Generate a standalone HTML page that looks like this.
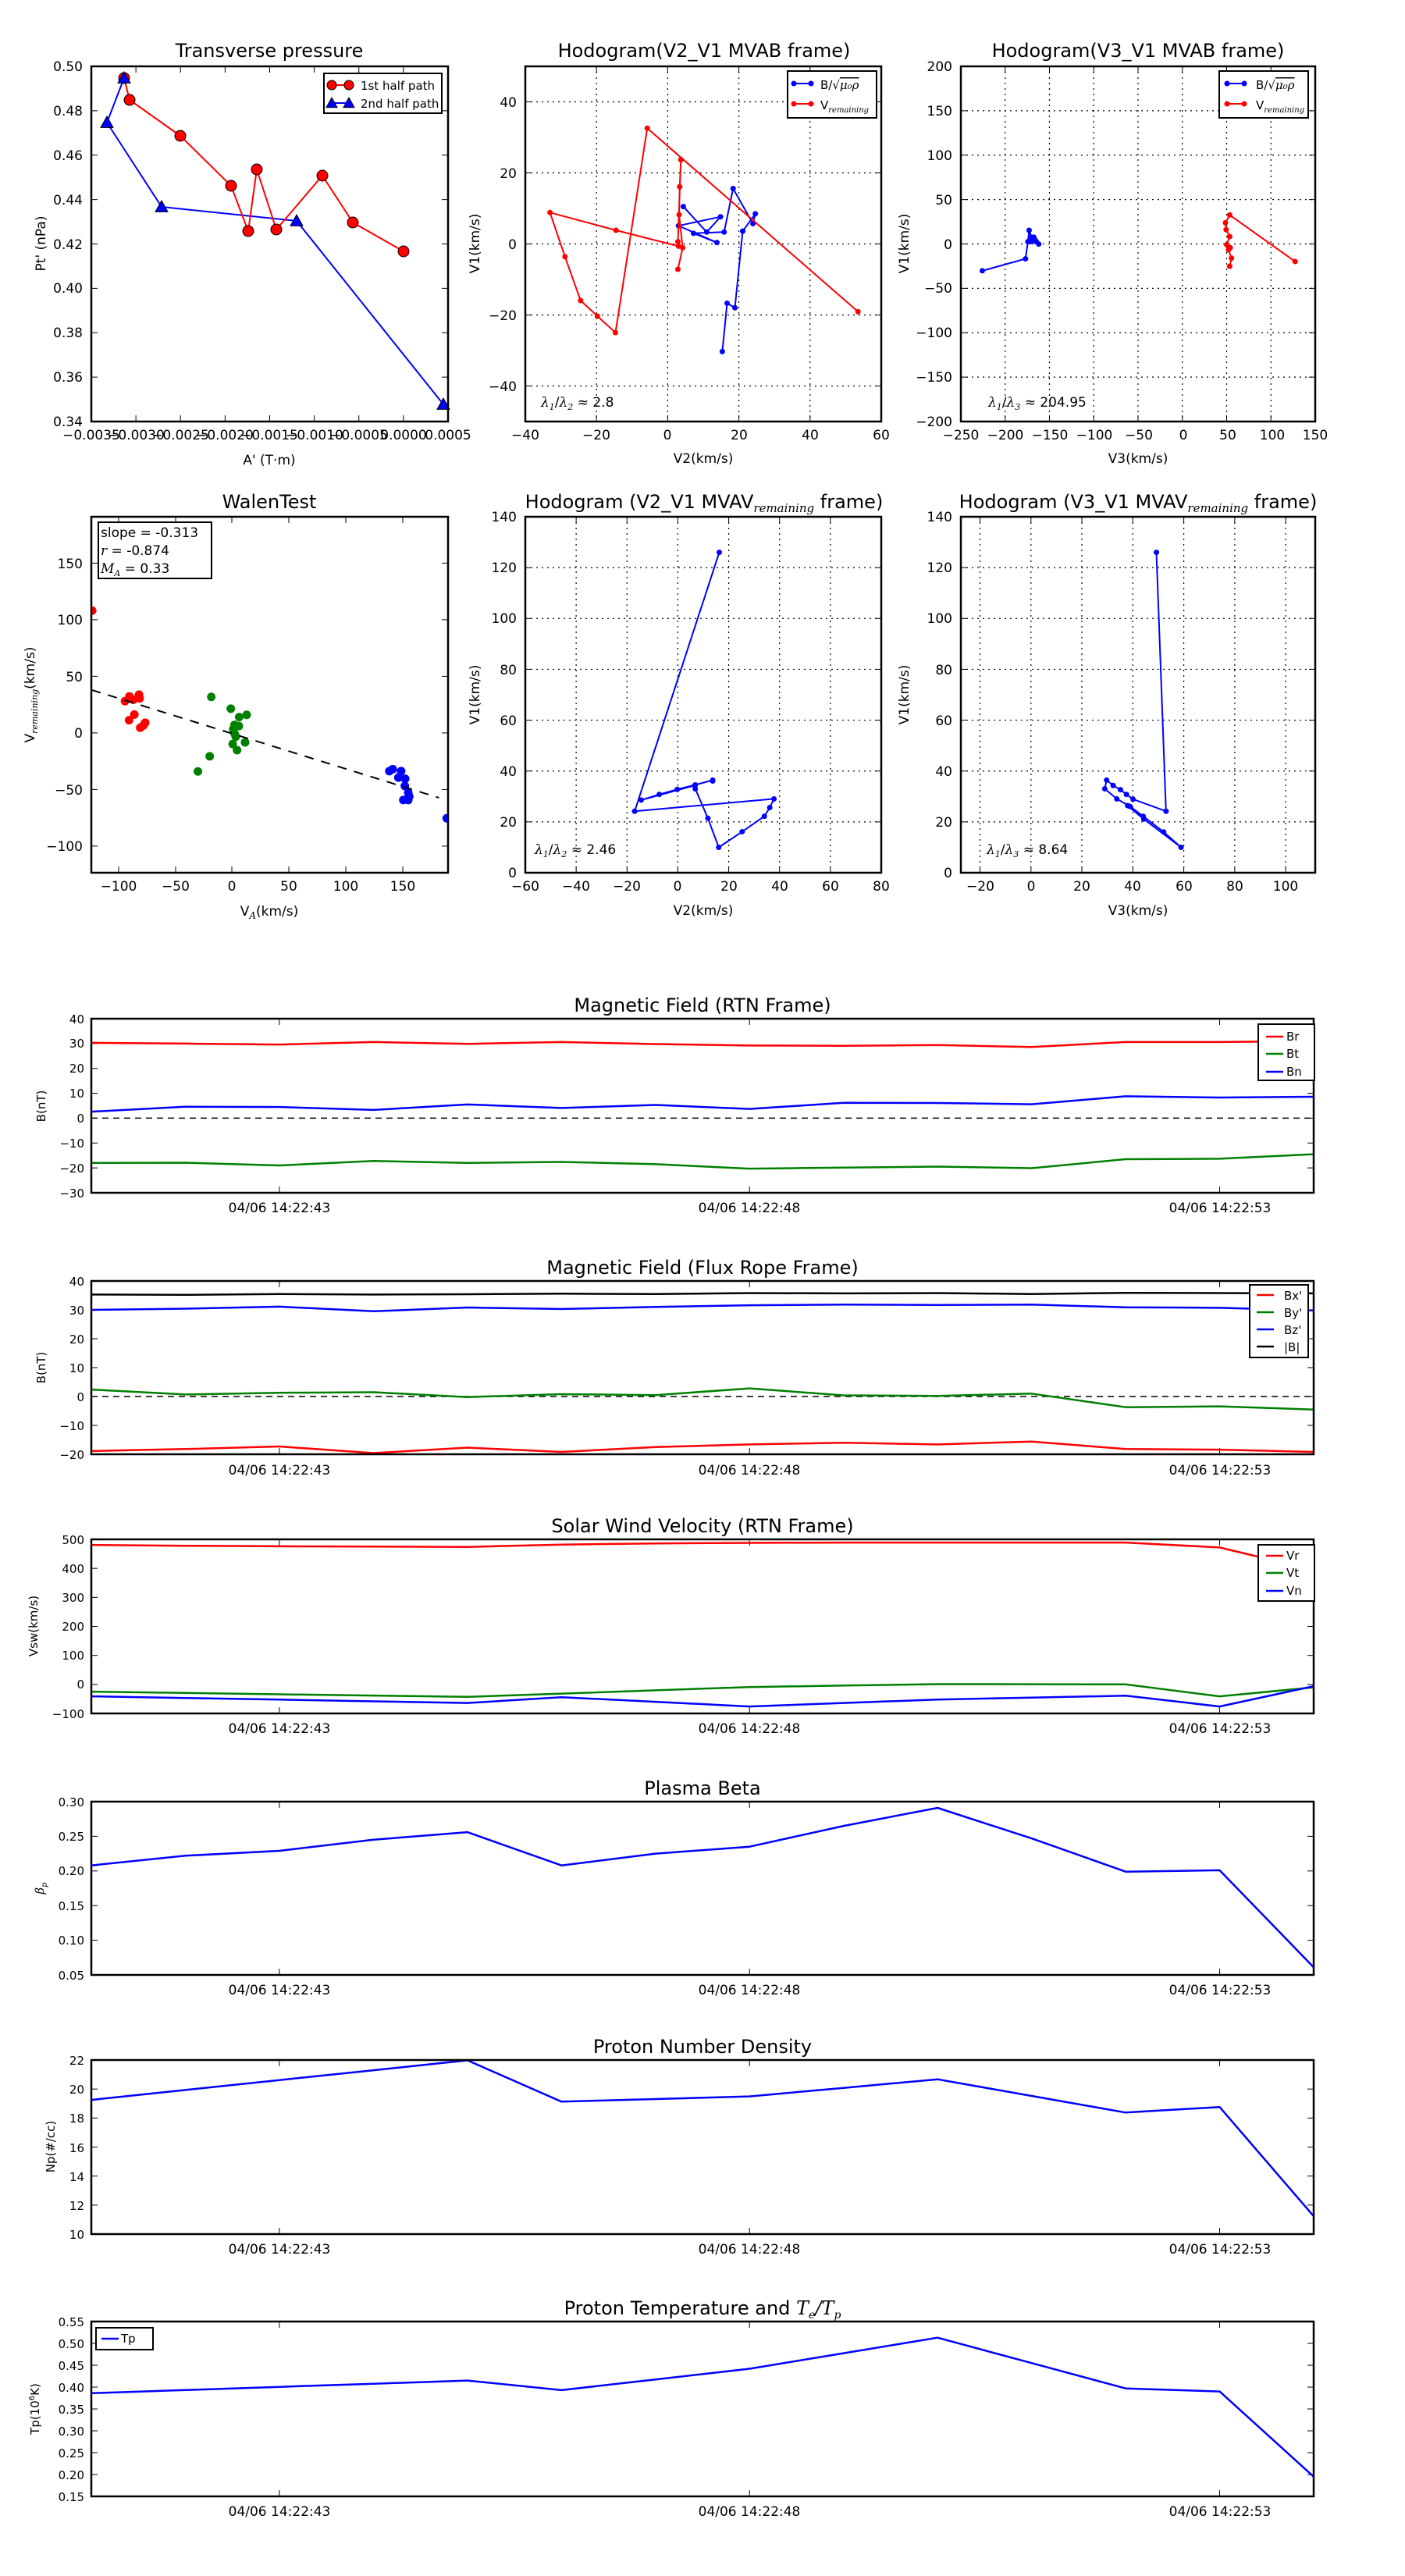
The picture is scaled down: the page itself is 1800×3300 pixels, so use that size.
<!DOCTYPE html>
<html><head><meta charset="utf-8"><style>
html,body{margin:0;padding:0;background:#fff;}
svg{display:block;}
text{font-family:"DejaVu Sans","Liberation Sans",sans-serif;fill:#000;}
.t{font-size:24px;text-anchor:middle;}
.tk{font-size:17px;}
.s{font-size:15px;}
.r{text-anchor:end;}
.m{text-anchor:middle;}
.it{font-family:"DejaVu Serif","Liberation Serif",serif;font-style:italic;}
</style></head><body>
<svg id="s" width="1800" height="3300" viewBox="0 0 1800 3300" xmlns="http://www.w3.org/2000/svg">
<rect width="1800" height="3300" fill="#fff"/>
<g id="g"></g>
<text class="t" x="345" y="73">Transverse pressure</text>
<text class="t" x="902" y="73">Hodogram(V2_V1 MVAB frame)</text>
<text class="t" x="1458" y="73">Hodogram(V3_V1 MVAB frame)</text>
<g class="tk m">
<text x="117" y="563">−0.0035</text><text x="174" y="563">−0.0030</text><text x="231" y="563">−0.0025</text><text x="288" y="563">−0.0020</text><text x="345" y="563">−0.0015</text><text x="403" y="563">−0.0010</text><text x="460" y="563">−0.0005</text><text x="517" y="563">0.0000</text><text x="574" y="563">0.0005</text>
</g>
<g class="tk r">
<text x="106" y="91">0.50</text><text x="106" y="148">0.48</text><text x="106" y="205">0.46</text><text x="106" y="262">0.44</text><text x="106" y="319">0.42</text><text x="106" y="375">0.40</text><text x="106" y="432">0.38</text><text x="106" y="489">0.36</text><text x="106" y="546">0.34</text>
</g>
<text class="tk m" x="345" y="595">A' (T·m)</text>
<text class="tk m" transform="translate(58,312) rotate(-90)">Pt' (nPa)</text>
<text class="s" x="462" y="115">1st half path</text>
<text class="s" x="462" y="138">2nd half path</text>
<g class="tk m">
<text x="673" y="563">−40</text><text x="764" y="563">−20</text><text x="855" y="563">0</text><text x="947" y="563">20</text><text x="1038" y="563">40</text><text x="1129" y="563">60</text>
</g>
<g class="tk r">
<text x="662" y="137">40</text><text x="662" y="228">20</text><text x="662" y="319">0</text><text x="662" y="410">−20</text><text x="662" y="501">−40</text>
</g>
<text class="tk m" x="901" y="593">V2(km/s)</text>
<text class="tk m" transform="translate(614,312) rotate(-90)">V1(km/s)</text>
<text x="693" y="521" class="tk"><tspan class="it">λ</tspan><tspan class="it" font-size="11" dy="4">1</tspan><tspan dy="-4">/</tspan><tspan class="it">λ</tspan><tspan class="it" font-size="11" dy="4">2</tspan><tspan dy="-4"> ≈ 2.8</tspan></text>
<text class="s" x="1051" y="114">B/√<tspan class="it" text-decoration="overline">μ₀ρ</tspan></text>
<text class="s" x="1051" y="140">V<tspan class="it" font-size="10" dy="4">remaining</tspan></text>
<g class="tk m">
<text x="1231" y="563">−250</text><text x="1288" y="563">−200</text><text x="1345" y="563">−150</text><text x="1402" y="563">−100</text><text x="1459" y="563">−50</text><text x="1516" y="563">0</text><text x="1573" y="563">50</text><text x="1630" y="563">100</text><text x="1685" y="563">150</text>
</g>
<g class="tk r">
<text x="1220" y="91">200</text><text x="1220" y="148">150</text><text x="1220" y="205">100</text><text x="1220" y="262">50</text><text x="1220" y="319">0</text><text x="1220" y="375">−50</text><text x="1220" y="432">−100</text><text x="1220" y="489">−150</text><text x="1220" y="546">−200</text>
</g>
<text class="tk m" x="1458" y="593">V3(km/s)</text>
<text class="tk m" transform="translate(1164,312) rotate(-90)">V1(km/s)</text>
<text x="1266" y="521" class="tk"><tspan class="it">λ</tspan><tspan class="it" font-size="11" dy="4">1</tspan><tspan dy="-4">/</tspan><tspan class="it">λ</tspan><tspan class="it" font-size="11" dy="4">3</tspan><tspan dy="-4"> ≈ 204.95</tspan></text>
<text class="s" x="1609" y="114">B/√<tspan class="it" text-decoration="overline">μ₀ρ</tspan></text>
<text class="s" x="1609" y="140">V<tspan class="it" font-size="10" dy="4">remaining</tspan></text>

<text class="t" x="345" y="651">WalenTest</text>
<text class="t" x="902" y="651">Hodogram (V2_V1 MVAV<tspan class="it" font-size="15" dy="5">remaining</tspan><tspan dy="-5"> frame)</tspan></text>
<text class="t" x="1458" y="651">Hodogram (V3_V1 MVAV<tspan class="it" font-size="15" dy="5">remaining</tspan><tspan dy="-5"> frame)</tspan></text>
<g class="tk m">
<text x="152" y="1141">−100</text><text x="225" y="1141">−50</text><text x="297" y="1141">0</text><text x="370" y="1141">50</text><text x="443" y="1141">100</text><text x="516" y="1141">150</text>
</g>
<g class="tk r">
<text x="106" y="728">150</text><text x="106" y="800">100</text><text x="106" y="873">50</text><text x="106" y="945">0</text><text x="106" y="1018">−50</text><text x="106" y="1090">−100</text>
</g>
<text class="tk m" x="345" y="1173">V<tspan class="it" font-size="12" dy="4">A</tspan><tspan dy="-4">(km/s)</tspan></text>
<text class="tk m" transform="translate(44,890) rotate(-90)">V<tspan class="it" font-size="11" dy="4">remaining</tspan><tspan dy="-4">(km/s)</tspan></text>
<text class="tk" x="129" y="688">slope = -0.313</text>
<text class="tk" x="129" y="711"><tspan class="it">r</tspan> = -0.874</text>
<text class="tk" x="129" y="734"><tspan class="it">M</tspan><tspan class="it" font-size="11" dy="4">A</tspan><tspan dy="-4"> = 0.33</tspan></text>
<g class="tk m">
<text x="673" y="1141">−60</text><text x="738" y="1141">−40</text><text x="803" y="1141">−20</text><text x="868" y="1141">0</text><text x="934" y="1141">20</text><text x="999" y="1141">40</text><text x="1064" y="1141">60</text><text x="1129" y="1141">80</text>
</g>
<g class="tk r">
<text x="662" y="668">140</text><text x="662" y="733">120</text><text x="662" y="798">100</text><text x="662" y="864">80</text><text x="662" y="929">60</text><text x="662" y="994">40</text><text x="662" y="1059">20</text><text x="662" y="1124">0</text>
</g>
<text class="tk m" x="901" y="1172">V2(km/s)</text>
<text class="tk m" transform="translate(614,890) rotate(-90)">V1(km/s)</text>
<text x="685" y="1094" class="tk"><tspan class="it">λ</tspan><tspan class="it" font-size="11" dy="4">1</tspan><tspan dy="-4">/</tspan><tspan class="it">λ</tspan><tspan class="it" font-size="11" dy="4">2</tspan><tspan dy="-4"> ≈ 2.46</tspan></text>
<g class="tk m">
<text x="1256" y="1141">−20</text><text x="1321" y="1141">0</text><text x="1386" y="1141">20</text><text x="1451" y="1141">40</text><text x="1517" y="1141">60</text><text x="1582" y="1141">80</text><text x="1647" y="1141">100</text>
</g>
<g class="tk r">
<text x="1220" y="668">140</text><text x="1220" y="733">120</text><text x="1220" y="798">100</text><text x="1220" y="864">80</text><text x="1220" y="929">60</text><text x="1220" y="994">40</text><text x="1220" y="1059">20</text><text x="1220" y="1124">0</text>
</g>
<text class="tk m" x="1458" y="1172">V3(km/s)</text>
<text class="tk m" transform="translate(1164,890) rotate(-90)">V1(km/s)</text>
<text x="1264" y="1094" class="tk"><tspan class="it">λ</tspan><tspan class="it" font-size="11" dy="4">1</tspan><tspan dy="-4">/</tspan><tspan class="it">λ</tspan><tspan class="it" font-size="11" dy="4">3</tspan><tspan dy="-4"> ≈ 8.64</tspan></text>

<text class="t" x="900" y="1296">Magnetic Field (RTN Frame)</text>
<text class="t" x="900" y="1632">Magnetic Field (Flux Rope Frame)</text>
<text class="t" x="900" y="1963">Solar Wind Velocity (RTN Frame)</text>
<text class="t" x="900" y="2299">Plasma Beta</text>
<text class="t" x="900" y="2630">Proton Number Density</text>
<text class="t" x="900" y="2965">Proton Temperature and <tspan class="it">T</tspan><tspan class="it" font-size="14" dy="5">e</tspan><tspan class="it" dy="-5">/T</tspan><tspan class="it" font-size="14" dy="5">p</tspan></text>
<g class="tk m">
<text x="358" y="1553">04/06 14:22:43</text><text x="960" y="1553">04/06 14:22:48</text><text x="1563" y="1553">04/06 14:22:53</text>
<text x="358" y="1889">04/06 14:22:43</text><text x="960" y="1889">04/06 14:22:48</text><text x="1563" y="1889">04/06 14:22:53</text>
<text x="358" y="2220">04/06 14:22:43</text><text x="960" y="2220">04/06 14:22:48</text><text x="1563" y="2220">04/06 14:22:53</text>
<text x="358" y="2555">04/06 14:22:43</text><text x="960" y="2555">04/06 14:22:48</text><text x="1563" y="2555">04/06 14:22:53</text>
<text x="358" y="2887">04/06 14:22:43</text><text x="960" y="2887">04/06 14:22:48</text><text x="1563" y="2887">04/06 14:22:53</text>
<text x="358" y="3223">04/06 14:22:43</text><text x="960" y="3223">04/06 14:22:48</text><text x="1563" y="3223">04/06 14:22:53</text>
</g>
<g class="s r">
<text x="108" y="1311">40</text><text x="108" y="1342">30</text><text x="108" y="1374">20</text><text x="108" y="1406">10</text><text x="108" y="1438">0</text><text x="108" y="1470">−10</text><text x="108" y="1502">−20</text><text x="108" y="1534">−30</text>
<text x="108" y="1647">40</text><text x="108" y="1684">30</text><text x="108" y="1721">20</text><text x="108" y="1758">10</text><text x="108" y="1795">0</text><text x="108" y="1832">−10</text><text x="108" y="1869">−20</text>
<text x="108" y="1978">500</text><text x="108" y="2015">400</text><text x="108" y="2052">300</text><text x="108" y="2089">200</text><text x="108" y="2126">100</text><text x="108" y="2163">0</text><text x="108" y="2201">−100</text>
<text x="108" y="2314">0.30</text><text x="108" y="2358">0.25</text><text x="108" y="2402">0.20</text><text x="108" y="2447">0.15</text><text x="108" y="2491">0.10</text><text x="108" y="2536">0.05</text>
<text x="108" y="2645">22</text><text x="108" y="2682">20</text><text x="108" y="2719">18</text><text x="108" y="2757">16</text><text x="108" y="2794">14</text><text x="108" y="2831">12</text><text x="108" y="2868">10</text>
<text x="108" y="2980">0.55</text><text x="108" y="3008">0.50</text><text x="108" y="3036">0.45</text><text x="108" y="3064">0.40</text><text x="108" y="3092">0.35</text><text x="108" y="3120">0.30</text><text x="108" y="3148">0.25</text><text x="108" y="3176">0.20</text><text x="108" y="3204">0.15</text>
</g>
<g class="s m">
<text transform="translate(58,1417) rotate(-90)">B(nT)</text>
<text transform="translate(58,1752) rotate(-90)">B(nT)</text>
<text transform="translate(48,2083) rotate(-90)">Vsw(km/s)</text>
<text transform="translate(56,2419) rotate(-90)" class="it">β<tspan font-size="10" dy="4">p</tspan></text>
<text transform="translate(70,2750) rotate(-90)">Np(#/cc)</text>
<text transform="translate(50,3086) rotate(-90)">Tp(10<tspan font-size="10" dy="-6">6</tspan><tspan dy="6">K)</tspan></text>
</g>
<g class="s">
<text x="1648" y="1333">Br</text><text x="1648" y="1355">Bt</text><text x="1648" y="1378">Bn</text>
<text x="1645" y="1665">Bx'</text><text x="1645" y="1687">By'</text><text x="1645" y="1709">Bz'</text><text x="1645" y="1731">|B|</text>
<text x="1648" y="1998">Vr</text><text x="1648" y="2020">Vt</text><text x="1648" y="2043">Vn</text>
<text x="155" y="3001">Tp</text>
</g>
</svg>
<script>
var G=document.getElementById('g'),NS='http://www.w3.org/2000/svg';
function E(t,a,p){var e=document.createElementNS(NS,t);for(var k in a)e.setAttribute(k,a[k]);(p||G).appendChild(e);return e;}
function frame(x0,y0,x1,y1,xt,yt,grid){
 if(grid){xt.forEach(function(x){E('line',{x1:x,y1:y0,x2:x,y2:y1,stroke:'#000','stroke-width':1.2,'stroke-dasharray':'2,5'});});
  yt.forEach(function(y){E('line',{x1:x0,y1:y,x2:x1,y2:y,stroke:'#000','stroke-width':1.2,'stroke-dasharray':'2,5'});});}
 xt.forEach(function(x){E('line',{x1:x,y1:y0,x2:x,y2:y0+8,stroke:'#000','stroke-width':1});E('line',{x1:x,y1:y1,x2:x,y2:y1-8,stroke:'#000','stroke-width':1});});
 yt.forEach(function(y){E('line',{x1:x0,y1:y,x2:x0+8,y2:y,stroke:'#000','stroke-width':1});E('line',{x1:x1,y1:y,x2:x1-8,y2:y,stroke:'#000','stroke-width':1});});
}
function border(x0,y0,x1,y1){E('rect',{x:x0,y:y0,width:x1-x0,height:y1-y0,fill:'none',stroke:'#000','stroke-width':2.5});}
function line(pts,c,w){E('polyline',{points:pts.map(function(p){return p[0].toFixed(1)+','+p[1].toFixed(1)}).join(' '),fill:'none',stroke:c,'stroke-width':w||2,'stroke-linejoin':'round'});}
function dots(pts,c,r,ec){pts.forEach(function(p){E('circle',{cx:p[0],cy:p[1],r:r,fill:c,stroke:ec||'none','stroke-width':1});});}
function tris(pts,c,s){pts.forEach(function(p){E('polygon',{points:(p[0])+','+(p[1]-s)+' '+(p[0]-s)+','+(p[1]+s*0.8)+' '+(p[0]+s)+','+(p[1]+s*0.8),fill:c,stroke:'#000','stroke-width':1});});}
function cv(a,sx,sy,ox,oy){return a.map(function(p){return [ox+p[0]/sx,oy+p[1]/sy];});}
function rng(a,b,n){var r=[];for(var i=0;i<n;i++)r.push(a+(b-a)*i/(n-1));return r;}
function clip(id,x0,y0,x1,y1){var c=E('clipPath',{id:id});E('rect',{x:x0,y:y0,width:x1-x0,height:y1-y0},c);}

frame(117,85,574,540,rng(117,574,9),rng(85,540,9),false);
var blue1=[[159,100],[137,157],[207,265],[380,283],[568,518]];
var red1=[[159,100],[166,128],[231,174],[296,238],[318,296],[329,217],[354,294],[413,225],[452,285],[517,322]];
line(blue1,'#00f',2);line(red1,'#f00',2);
dots(red1,'#f00',7,'#000');tris(blue1,'#00f',8);
border(117,85,574,540);
E('rect',{x:415,y:94,width:151,height:51,fill:'#fff',stroke:'#000','stroke-width':2});
line([[425,109],[447,109]],'#f00',2);dots([[425,109],[447,109]],'#f00',6,'#000');
line([[425,132],[447,132]],'#00f',2);tris([[425,132],[447,132]],'#00f',7);

frame(673,85,1129,540,rng(673,1129,6),[130.5,221.5,312.5,403.5,494.5],true);
var b2=cv([[423,1171],[431,1010],[444,1025],[457,770],[478,712],[474,745],[441,628],[426,773],[375,777],[414,808],[350,752],[420,722],[397,773],[358,688]],1.3,2.6,600,0);
var r2=cv([[649,1038],[298,427],[245,1108],[215,1053],[187,1001],[161,855],[136,708],[246,767],[350,820],[349,805],[354,532],[352,622],[351,715],[357,825],[349,897]],1.3,2.6,600,0);
line(b2,'#00f',2);dots(b2,'#00f',3.5);line(r2,'#f00',2);dots(r2,'#f00',3.5);
border(673,85,1129,540);
E('rect',{x:1009,y:91,width:114,height:60,fill:'#fff',stroke:'#000','stroke-width':2});
line([[1017,107],[1039,107]],'#00f',2);dots([[1017,107],[1039,107]],'#00f',3.5);
line([[1017,133],[1039,133]],'#f00',2);dots([[1017,133],[1039,133]],'#f00',3.5);

frame(1231,85,1685,540,rng(1231,1685,9),rng(85,540,9),true);
var b3=cv([[856,902],[928,862],[932,805],[934,767],[938,790],[944,800],[950,813],[936,805],[942,790],[946,805]],1.3,2.6,600,0);
var r3=cv([[1377,871],[1268,716],[1261,742],[1262,765],[1268,788],[1263,815],[1269,825],[1266,832],[1271,860],[1268,887]],1.3,2.6,600,0);
line(b3,'#00f',2);dots(b3,'#00f',3.5);line(r3,'#f00',2);dots(r3,'#f00',3.5);
border(1231,85,1685,540);
E('rect',{x:1562,y:91,width:114,height:60,fill:'#fff',stroke:'#000','stroke-width':2});
line([[1572,107],[1594,107]],'#00f',2);dots([[1572,107],[1594,107]],'#00f',3.5);
line([[1572,133],[1594,133]],'#f00',2);dots([[1572,133],[1594,133]],'#f00',3.5);

frame(117,662,574,1118,[152,225,297,370,443,516],[721.4,793.9,866.4,938.9,1011.4,1083.9],false);
clip('cw',117,662,574,1118);
var gw=E('g',{'clip-path':'url(#cw)'});
var wr=cv([[297,452],[403,775],[417,758],[430,770],[448,752],[450,765],[416,843],[433,823],[452,870],[462,862],[468,852]],2.516,2.786,0,620);
var wg=cv([[681,760],[744,802],[771,832],[795,824],[756,860],[770,864],[752,875],[757,893],[760,902],[750,928],[790,922],[764,950],[676,972],[638,1026]],2.516,2.786,0,620);
var wb=cv([[1255,1025],[1266,1018],[1293,1025],[1284,1048],[1306,1052],[1305,1078],[1316,1102],[1319,1115],[1300,1128],[1316,1128],[1440,1193]],2.516,2.786,0,620);
[[wr,'#f00'],[wg,'#008000'],[wb,'#00f']].forEach(function(s){s[0].forEach(function(p){E('circle',{cx:p[0],cy:p[1],r:5.5,fill:s[1]},gw);});});
var dl=cv([[295,735],[1415,1120]],2.516,2.786,0,620);
E('line',{x1:dl[0][0],y1:dl[0][1],x2:dl[1][0],y2:dl[1][1],stroke:'#000','stroke-width':2,'stroke-dasharray':'12,10'});
border(117,662,574,1118);
E('rect',{x:126,y:669,width:145,height:72,fill:'#fff',stroke:'#000','stroke-width':2});

frame(673,662,1129,1118,rng(673,1129,8),rng(662,1118,8),true);
var h2=cv([[418,244],[277,1168],[509,1124],[502,1155],[493,1186],[456,1241],[417,1297],[399,1193],[378,1088],[377,1076],[288,1128],[318,1108],[348,1090],[378,1074],[407,1057],[407,1060]],1.3,2.786,600,620);
line(h2,'#00f',2);dots(h2,'#00f',3.5);
border(673,662,1129,1118);
frame(1231,662,1685,1118,[1255.5,1320.8,1386,1451.3,1516.6,1581.9,1647.2],rng(662,1118,8),true);
var h3=cv([[1146,244],[1162,1168],[1107,1125],[1096,1108],[1086,1091],[1074,1076],[1063,1057],[1060,1088],[1080,1124],[1102,1151],[1124,1186],[1158,1242],[1187,1297],[1125,1196],[1098,1148]],1.3,2.786,600,620);
line(h3,'#00f',2);dots(h3,'#00f',3.5);
border(1231,662,1685,1118);

function interp(k){var a=[];var ks=Object.keys(k).map(Number).sort(function(x,y){return x-y});for(var i=0;i<14;i++){var j=0;while(j<ks.length-1&&ks[j+1]<i)j++;if(k[i]!==undefined){a.push(k[i]);continue;}var i0=ks[j],i1=ks[j+1];a.push(k[i0]+(k[i1]-k[i0])*(i-i0)/(i1-i0));}return a;}
function ts(y0,y1,lo,hi,nt,series,zero){
 var X0=117,X1=1683;
 frame(X0,y0,X1,y1,[X0+2*(X1-X0)/13,X0+7*(X1-X0)/13,X0+12*(X1-X0)/13],rng(y0,y1,nt),false);
 var f=function(v){return y1-(v-lo)/(hi-lo)*(y1-y0);};
 if(zero)E('line',{x1:X0,y1:f(0),x2:X1,y2:f(0),stroke:'#000','stroke-width':1.5,'stroke-dasharray':'8,6'});
 series.forEach(function(s){line(s[0].map(function(v,i){return [X0+i*(X1-X0)/13,f(v)];}),s[1],2.5);});
 border(X0,y0,X1,y1);
}
ts(1305,1528,-30,40,8,[
 [[30.3,30,29.6,30.6,29.9,30.6,29.8,29.2,29.1,29.4,28.6,30.6,30.6,31],'#f00'],
 [[-18,-17.9,-19,-17.2,-18,-17.6,-18.5,-20.3,-19.9,-19.5,-20.1,-16.5,-16.3,-14.5],'#008000'],
 [[2.6,4.6,4.5,3.3,5.5,4.1,5.3,3.7,6.2,6.1,5.6,8.8,8.3,8.6],'#00f']],true);
ts(1641,1863,-20,40,7,[
 [[-18.9,-18.2,-17.3,-19.6,-17.7,-19.2,-17.5,-16.6,-16,-16.6,-15.6,-18.2,-18.4,-19.2],'#f00'],
 [[2.4,0.7,1.3,1.5,-0.2,0.8,0.5,2.8,0.4,0.2,1,-3.7,-3.4,-4.5],'#008000'],
 [[30,30.4,31.1,29.5,30.8,30.3,31,31.6,31.8,31.7,31.8,30.9,30.7,29.8],'#00f'],
 [[35.3,35.2,35.5,35.3,35.4,35.6,35.5,35.8,35.7,35.8,35.5,35.9,35.8,35.7],'#000']],true);
ts(1972,2195,-100,500,7,[
 [[481,478,476,475,474,482,486,488,489,489,489,489,472,394],'#f00'],
 [interp({0:-25,4:-43,7:-9,9:1,11:0,12:-41,13:-10}),'#008000'],
 [interp({0:-41,4:-64,5:-44,7:-76,9:-52,11:-39,12:-76,13:-6}),'#00f']],false);
ts(2308,2530,0.05,0.30,6,[[[0.208,0.222,0.229,0.245,0.256,0.208,0.225,0.235,0.265,0.291,0.247,0.199,0.201,0.061],'#00f']],false);
ts(2639,2862,10,22,7,[[interp({0:19.25,4:21.98,5:19.13,7:19.49,9:20.67,11:18.38,12:18.76,13:11.23}),'#00f']],false);
ts(2974,3198,0.15,0.55,9,[[interp({0:0.386,4:0.415,5:0.393,7:0.442,9:0.513,11:0.397,12:0.390,13:0.195}),'#00f']],false);

function leg(x,y,w,h,items,lx){E('rect',{x:x,y:y,width:w,height:h,fill:'#fff',stroke:'#000','stroke-width':2});items.forEach(function(it){line([[lx,it[0]],[lx+22,it[0]]],it[1],2.5);});}
leg(1612,1312,72,72,[[1328,'#f00'],[1350,'#008000'],[1373,'#00f']],1622);
leg(1601,1646,75,93,[[1659,'#f00'],[1681,'#008000'],[1703,'#00f'],[1725,'#000']],1610);
leg(1612,1979,72,72,[[1993,'#f00'],[2015,'#008000'],[2038,'#00f']],1622);
leg(123,2982,73,28,[[2996,'#00f']],130);
var s=document.getElementById('s');Array.prototype.slice.call(s.querySelectorAll('svg > text, svg > g.tk, svg > g.s')).forEach(function(t){s.appendChild(t);});
</script>
</body></html>
